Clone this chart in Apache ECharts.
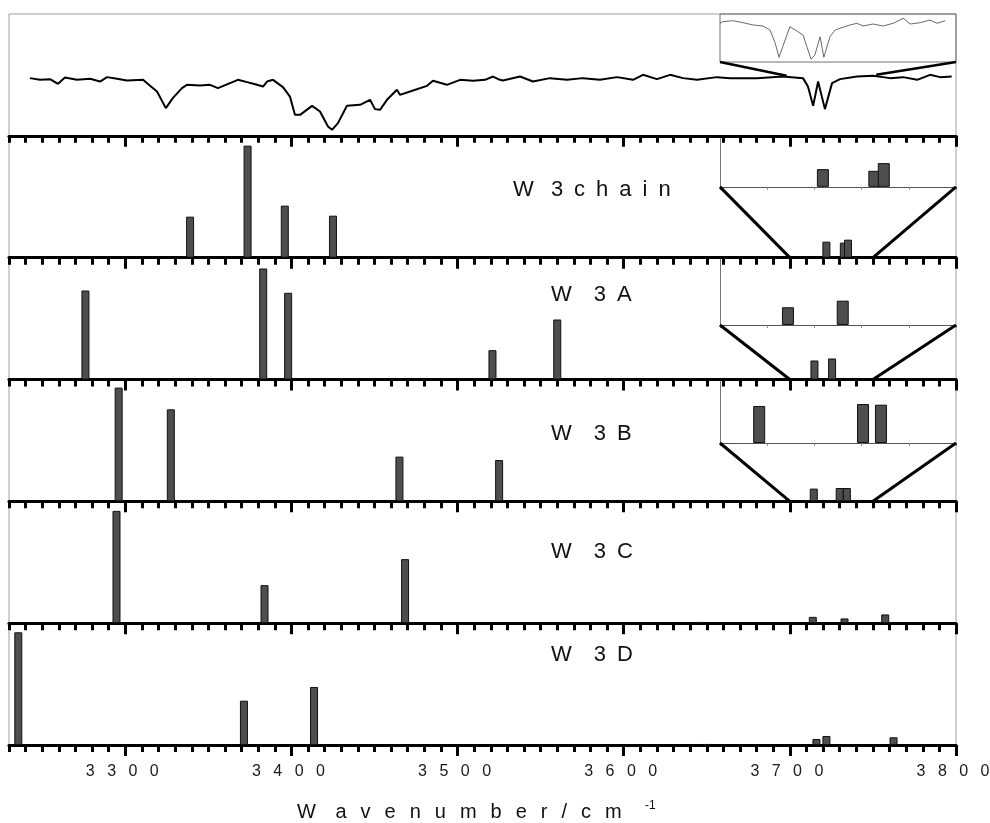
<!DOCTYPE html>
<html><head><meta charset="utf-8">
<script src="https://cdn.jsdelivr.net/npm/echarts@6/dist/echarts.min.js"></script>
<style>html,body{margin:0;padding:0;background:#fff}#c{width:990px;height:823px}</style>
</head><body><div id="c"></div>
<script>
// ---------- data ----------
const xMin = 3230, xMax = 3800;
const tickLabels = [3300, 3400, 3500, 3600, 3700, 3800];
const zoomRange = [3700, 3750];
const panelNames = ['W3chain', 'W3A', 'W3B', 'W3C', 'W3D'];

// experimental spectrum (arbitrary transmittance units)
const spectrumX = [3242.6,3248.7,3254.7,3259.5,3263.7,3270.9,3278.8,3284.8,3289,3295,3301,3310.7,3314.9,3319.1,3324.4,3328.7,3334.1,3337.1,3345,3351,3355.8,3363,3367.8,3373.3,3379.3,3382.9,3385.3,3388.9,3394.9,3399.1,3402.1,3405.2,3412.4,3417.2,3422,3424.4,3428,3433.4,3441.3,3447.3,3450.3,3453.3,3457.5,3463.5,3465.3,3471.4,3481.6,3485.2,3493.6,3501.5,3509.3,3516.5,3521.3,3525.5,3527.3,3537.6,3545.4,3555.6,3565.9,3575.5,3585.7,3596,3605.6,3611.6,3620,3627.9,3635.7,3644.1,3656.2,3664,3680.2,3695.9,3707.9,3710.9,3714,3717,3718.1,3721.1,3725.4,3730.2,3740.4,3750.1,3760.3,3768.1,3776.6,3784.4,3790.4,3797.4];
const spectrumY = [57.7,56,56.7,52,58.3,56,57,54.3,58.7,57,55.3,56,50,44.3,27.7,38,47.7,51,50.3,51,47.7,52.7,56,53.7,51,49.3,54.3,56,48.7,39.3,21,21,30,24.3,9.3,6,12.7,30,31,36,26.7,26,36,46,41,44.3,50,55,51,56,55,56,59.3,56,55.3,59.3,54.3,57.7,56,57.7,56,58.7,56,61,56.7,61,57.7,56,58.7,57.7,57.7,59.3,57.7,49.3,30,54.3,56,26.7,52.7,56.7,59.3,60,57.7,58.7,56,61,58.7,59.3];

// zoomed spectrum (inset)
const insetSpecX = [3700,3700.6,3702.8,3704.9,3707,3709.1,3710.6,3711.7,3712.5,3713.3,3714.8,3716.5,3717.6,3718.4,3719.3,3720.1,3721.2,3722,3723.3,3724.4,3725.4,3727.5,3729,3730.3,3732.4,3734.5,3736.7,3738.8,3740.3,3742.4,3744.5,3746,3747.7];
const insetSpecY = [38.7,40.3,41.3,39.3,37,36,32,18.7,4.7,15.3,35.3,30.3,27,15.3,2.7,7,25.3,4.7,25.3,32,33.7,37,38.7,36,38,36,38.7,43.7,38,39.3,42,38.7,41.3];

// computed bands (arbitrary intensity units)
const chainX = [3339, 3373.6, 3396, 3425, 3722, 3732.5, 3735];
const chainY = [41, 112, 52, 42, 16, 15, 18];
const aX = [3276, 3383, 3398, 3521, 3560, 3714.8, 3725.4];
const aY = [89, 111, 86.7, 29.3, 60, 19, 21];
const bX = [3296, 3327.4, 3465, 3525, 3714.4, 3730, 3734.3];
const bY = [113.7, 92, 44.7, 41.3, 12.7, 13.3, 13.3];
const cX = [3294.7, 3383.8, 3468.4, 3646, 3713.8, 3732.9, 3757.4];
const cY = [112.3, 38, 64, 1.2, 6.3, 4.7, 8.7];
const dX = [3235.6, 3371.4, 3413.6, 3650, 3716, 3722, 3762.4];
const dY = [112.7, 44.3, 58, 1, 6, 9, 7.7];

// inset (zoomed) bands
const chainInsetX = [3721.8, 3732.7, 3734.7];
const chainInsetY = [17.7, 16, 23.7];
const aInsetX = [3714.4, 3726];
const aInsetY = [17.7, 24.3];
const bInsetX = [3708.3, 3730.3, 3734.1];
const bInsetY = [37, 39, 38.3];

// ---------- layout ----------
const L = 9, R = 34, TOP = 14, H = 121.83;
const FONT = '"Liberation Sans", Arial, sans-serif';
const pairs = (xs, ys) => xs.map((x, i) => [x, ys[i]]);
const spaced = (s, sep) => s.split('').join(sep);

const grids = [], xAxes = [], yAxes = [], series = [], titles = [];
for (let i = 0; i < 6; i++) {
  grids.push({left: L, right: R, top: TOP + i * H, height: H, show: true, outerBoundsMode: 'none',
    borderColor: '#a0a0a0', borderWidth: 1, backgroundColor: 'transparent'});
  xAxes.push({type: 'value', gridIndex: i, position: 'bottom', min: xMin, max: xMax, interval: 10,
    axisLine: {show: true, lineStyle: {color: '#000', width: 3.2}},
    axisTick: {show: true, length: 7, lineStyle: {color: '#000', width: 3}},
    axisLabel: {show: false}, splitLine: {show: false}});
  xAxes.push({type: 'value', gridIndex: i, position: 'bottom', min: xMin, max: xMax,
    axisLine: {show: false},
    axisTick: {show: true, length: 11, customValues: tickLabels, lineStyle: {color: '#000', width: 3}},
    axisLabel: {show: false}, splitLine: {show: false}});
  yAxes.push({type: 'value', gridIndex: i, min: 0, max: H, show: false});
}
// insets
const insetDefs = [
  {top: TOP, height: 48, box: true},
  {top: TOP + H, height: 51},
  {top: TOP + 2 * H, height: 67.3},
  {top: TOP + 3 * H, height: 63.5}
];
insetDefs.forEach((d, j) => {
  grids.push({left: 720, right: R, top: d.top, height: d.height, show: !!d.box, outerBoundsMode: 'none',
    borderColor: '#707070', borderWidth: 1, backgroundColor: 'transparent'});
  xAxes.push({type: 'value', gridIndex: 6 + j, position: 'bottom', min: zoomRange[0], max: zoomRange[1], interval: 10,
    axisLine: {show: !d.box, lineStyle: {color: '#555', width: 1}},
    axisTick: {show: !d.box, length: 3, inside: false, lineStyle: {color: '#888', width: 1}},
    axisLabel: {show: false}, splitLine: {show: false}});
  yAxes.push({type: 'value', gridIndex: 6 + j, min: 0, max: d.height,
    axisLine: {show: !d.box, lineStyle: {color: '#777', width: 1}},
    axisTick: {show: false}, axisLabel: {show: false}, splitLine: {show: false}});
});
// tick labels of the bottom panel (xAxis 16)
xAxes.push({type: 'value', gridIndex: 5, position: 'bottom', min: xMin, max: xMax,
  axisLine: {show: false}, axisTick: {show: false}, splitLine: {show: false},
  axisLabel: {show: true, customValues: tickLabels, margin: 19, fontSize: 16, color: '#1a1a1a',
    fontFamily: FONT, padding: [0, 6, 0, 0],
    formatter: v => spaced(String(v), '\u2002 ')}});

// series
series.push({type: 'line', xAxisIndex: 0, yAxisIndex: 0, data: pairs(spectrumX, spectrumY),
  symbol: 'none', lineStyle: {color: '#000', width: 2}, z: 3});
const barData = [[chainX, chainY], [aX, aY], [bX, bY], [cX, cY], [dX, dY]];
barData.forEach((b, k) => {
  series.push({type: 'bar', name: panelNames[k], xAxisIndex: 2 * (k + 1), yAxisIndex: k + 1,
    data: pairs(b[0], b[1]), barWidth: 8,
    itemStyle: {color: '#4e4e4e', borderColor: '#111', borderWidth: 1}});
});
series.push({type: 'line', xAxisIndex: 12, yAxisIndex: 6, data: pairs(insetSpecX, insetSpecY),
  symbol: 'none', lineStyle: {color: '#6a6a6a', width: 1}});
[[chainInsetX, chainInsetY], [aInsetX, aInsetY], [bInsetX, bInsetY]].forEach((b, k) => {
  series.push({type: 'bar', xAxisIndex: 13 + k, yAxisIndex: 7 + k, data: pairs(b[0], b[1]),
    barWidth: 12, itemStyle: {color: '#4e4e4e', borderColor: '#111', borderWidth: 1}});
});

// panel labels
const labelText = [
  'W\u2002 3\u2002c\u2002h\u2002a\u2002i\u2002n',
  'W\u2002\u20023\u2002A', 'W\u2002\u20023\u2002B', 'W\u2002\u20023\u2002C', 'W\u2002\u20023\u2002D'
];
const labelPos = [[513, 179], [551, 284], [551, 423], [551, 541], [551, 644]];
labelText.forEach((t, k) => titles.push({text: t, left: labelPos[k][0], top: labelPos[k][1], padding: 0,
  textStyle: {fontSize: 22, fontWeight: 'normal', color: '#111', fontFamily: FONT}}));
// axis title
const sep = '\u2002\u2009';
titles.push({text: 'W' + sep + ' ' + spaced('avenumber', sep) + sep + spaced('/cm', sep),
  left: 297, top: 802, padding: 0,
  textStyle: {fontSize: 20, fontWeight: 'normal', color: '#111', fontFamily: FONT}});
titles.push({text: '-1', left: 645, top: 800, padding: 0,
  textStyle: {fontSize: 12, fontWeight: 'normal', color: '#111', fontFamily: FONT}});

const chart = echarts.init(document.getElementById('c'), null, {renderer: 'canvas'});
chart.setOption({backgroundColor: '#fff', animation: false, title: titles,
  grid: grids, xAxis: xAxes, yAxis: yAxes, series: series});

// connector lines from insets to the zoomed region
const links = [
  {inset: 6, main: 0, pts: [[zoomRange[0], 0, 3698, 60], [zoomRange[1], 0, 3752, 61]], w: 2.5},
  {inset: 7, main: 1, pts: [[zoomRange[0], 0, zoomRange[0], 0], [zoomRange[1], 0, zoomRange[1], 0]], w: 3},
  {inset: 8, main: 2, pts: [[zoomRange[0], 0, zoomRange[0], 0], [zoomRange[1], 0, zoomRange[1], 0]], w: 3},
  {inset: 9, main: 3, pts: [[zoomRange[0], 0, zoomRange[0], 0], [zoomRange[1], 0, zoomRange[1], 0]], w: 3}
];
const gfx = [];
links.forEach(l => l.pts.forEach(p => {
  const a = chart.convertToPixel({seriesIndex: l.inset}, [p[0], p[1]]);
  const b = chart.convertToPixel({seriesIndex: l.main}, [p[2], p[3]]);
  gfx.push({type: 'line', shape: {x1: a[0], y1: a[1], x2: b[0], y2: b[1]},
    style: {stroke: '#000', lineWidth: l.w}, z: 10});
}));
chart.setOption({graphic: gfx});
</script></body></html>
